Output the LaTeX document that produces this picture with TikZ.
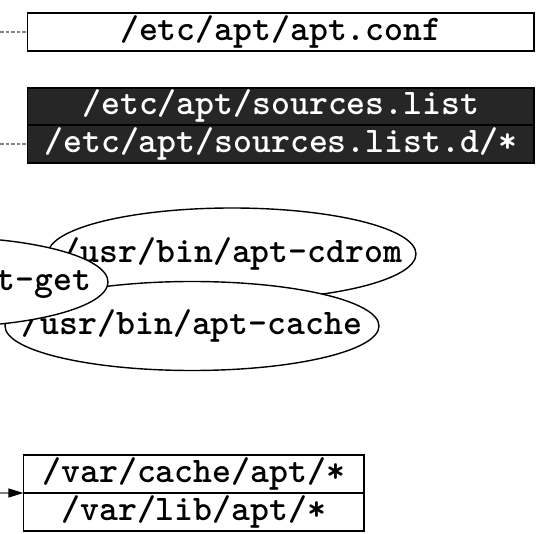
\documentclass[tikz,border=0pt]{standalone}
\usepackage{fontspec}
\usetikzlibrary{shapes.geometric,arrows.meta}
\definecolor{darkfill}{HTML}{262626}
\definecolor{linkgray}{HTML}{808080}
\newcommand{\ctext}[1]{\makebox[0pt]{\raisebox{-9pt}[0pt][0pt]{#1}}}
\begin{document}
\begin{tikzpicture}[x=1pt,y=-1pt,
  txt/.style={font=\ttfamily\bfseries\fontsize{36}{36}\selectfont},
  filebox/.style={txt, draw, line width=1.7pt, inner sep=0pt, outer sep=0pt,
    text height=21pt, text depth=4pt},
  darkbox/.style={filebox, fill=darkfill, text=white},
  prog/.style={txt, ellipse, draw, line width=1.4pt, fill=white, inner sep=0pt, outer sep=0pt,
    text height=0pt, text depth=0pt, text width=0pt},
  link/.style={linkgray, line width=1.3pt, dash pattern=on 3.5pt off 2pt},
  feed/.style={linkgray, line width=1.3pt, -{Triangle[length=15pt,width=9pt,color=black]}}
]
\useasboundingbox (0,0) rectangle (541,534);

% config file
\node[filebox, minimum width=506.5pt, minimum height=38.3pt] (conf) at (280.75,31.9) {/etc/apt/apt.conf};

% sources
\node[darkbox, minimum width=506.5pt, minimum height=37pt] (sl) at (280.75,106.5) {/etc/apt/sources.list};
\node[darkbox, minimum width=506.5pt, minimum height=38pt] (sld) at (280.75,144) {/etc/apt/sources.list.d/*};

% programs
\node[prog, minimum width=368pt, minimum height=92pt] (cdrom) at (232,254) {\ctext{/usr/bin/apt-cdrom}};
\node[prog, minimum width=374pt, minimum height=89pt] (cache) at (192,326) {\ctext{/usr/bin/apt-cache}};
\node[prog, minimum width=336pt, minimum height=90pt] (get) at (-60,282) {\ctext{/usr/bin/apt-get}};

% state
\node[filebox, minimum width=340.6pt, minimum height=38pt] (vc) at (193.7,474) {/var/cache/apt/*};
\node[filebox, minimum width=340.6pt, minimum height=38pt] (vl) at (193.7,512) {/var/lib/apt/*};

% connectors
\coordinate (c1) at (0,31.9);
\coordinate (c2) at (0,144);
\coordinate (c3) at (0,493);
\draw[link] (c1) -- (conf.west);
\draw[link] (c2) -- (sld.west);
\draw[feed] (c3) -- (vc.south west);
\end{tikzpicture}
\end{document}
